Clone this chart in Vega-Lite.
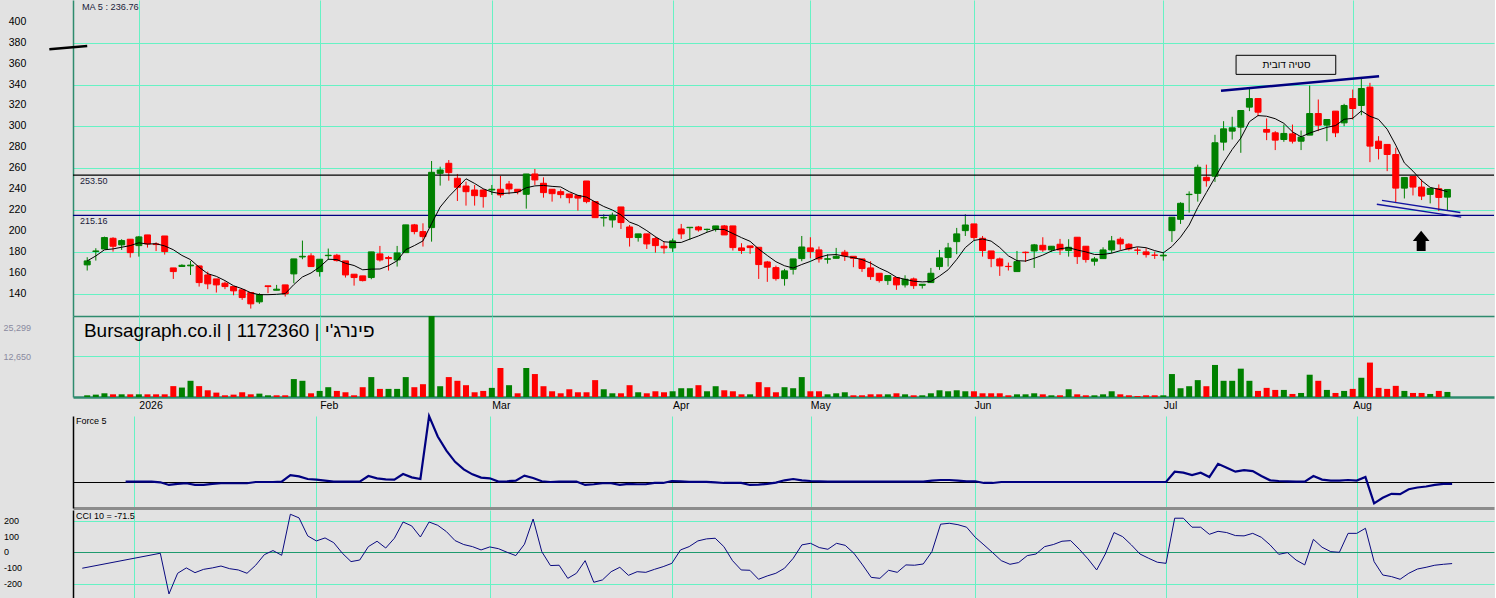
{
  "$schema": "https://vega.github.io/schema/vega-lite/v6.json",
  "background": "#e2e2e2",
  "padding": 0,
  "spacing": 0,
  "config": {
    "view": {"stroke": null},
    "axis": {"ticks": false, "tickSize": 0, "labelFont": "Liberation Sans", "labelColor": "#000000", "gridColor": "#66f2c4", "gridWidth": 1, "domainWidth": 1.5, "labelOverlap": false, "labelFlush": false, "labelBound": false},
    "text": {"font": "Liberation Sans"}
  },
  "datasets": {
    "d": [
      {"i":1,"o":167.8,"h":175.1,"l":162.4,"c":171.6,"v":530,"f":null,"cci":-101},
      {"i":2,"o":180.6,"h":183.7,"l":171.9,"c":181.1,"v":740,"f":null,"cci":null},
      {"i":3,"o":183,"h":194.8,"l":183,"c":193.9,"v":1160,"f":null,"cci":null},
      {"i":4,"o":193.2,"h":194.2,"l":180.5,"c":185.6,"v":840,"f":null,"cci":null},
      {"i":5,"o":186.9,"h":192.3,"l":182.1,"c":191,"v":840,"f":null,"cci":null},
      {"i":6,"o":192.3,"h":192.3,"l":174.8,"c":179.5,"v":840,"f":0.7,"cci":null},
      {"i":7,"o":186.2,"h":195.4,"l":175.7,"c":194.5,"v":840,"f":0.7,"cci":null},
      {"i":8,"o":196.4,"h":196.4,"l":184.3,"c":187.8,"v":840,"f":0.7,"cci":null},
      {"i":9,"o":187.8,"h":189.4,"l":181,"c":187.2,"v":840,"f":0.7,"cci":null},
      {"i":10,"o":195.4,"h":195.4,"l":177.6,"c":180.5,"v":840,"f":0,"cci":-6},
      {"i":11,"o":164.9,"h":164.9,"l":154.4,"c":161.4,"v":3400,"f":-2.7,"cci":-264},
      {"i":12,"o":166.3,"h":168.4,"l":166.2,"c":167.4,"v":2950,"f":-1.7,"cci":-133},
      {"i":13,"o":166.9,"h":171.6,"l":158.2,"c":167.6,"v":5060,"f":-1,"cci":-99},
      {"i":14,"o":166.8,"h":166.8,"l":147.1,"c":150.9,"v":3400,"f":-2.7,"cci":-129},
      {"i":15,"o":158.2,"h":161.4,"l":144.6,"c":149.7,"v":2100,"f":-2.7,"cci":-108},
      {"i":16,"o":154.4,"h":154.4,"l":141.4,"c":148.7,"v":1370,"f":-1.7,"cci":-99},
      {"i":17,"o":150.3,"h":151.9,"l":144.6,"c":147.1,"v":530,"f":-1,"cci":-87},
      {"i":18,"o":147.1,"h":147.1,"l":138.8,"c":143,"v":740,"f":-1,"cci":-104},
      {"i":19,"o":144,"h":144,"l":134.4,"c":136.6,"v":1480,"f":-1,"cci":-112},
      {"i":20,"o":141.4,"h":141.4,"l":126.1,"c":130.6,"v":840,"f":-1,"cci":-133},
      {"i":21,"o":132.5,"h":140.8,"l":130.6,"c":139.5,"v":1050,"f":0.3,"cci":-82},
      {"i":22,"o":147.8,"h":147.8,"l":140.8,"c":147.1,"v":530,"f":0.3,"cci":-15},
      {"i":23,"o":143.6,"h":148.7,"l":143.6,"c":144.6,"v":530,"f":0.3,"cci":11},
      {"i":24,"o":148.7,"h":148.7,"l":137.6,"c":140.1,"v":530,"f":0.7,"cci":-19},
      {"i":25,"o":159.2,"h":173.5,"l":150.3,"c":173.5,"v":5600,"f":7.3,"cci":241},
      {"i":26,"o":175.4,"h":191,"l":173.2,"c":176,"v":5060,"f":6,"cci":218},
      {"i":27,"o":176.4,"h":178.9,"l":166.2,"c":166.2,"v":1160,"f":3.3,"cci":104},
      {"i":28,"o":161.4,"h":173.2,"l":156.6,"c":173.2,"v":1900,"f":2.7,"cci":72},
      {"i":29,"o":176.6,"h":183.4,"l":172.5,"c":177,"v":3060,"f":1.7,"cci":91},
      {"i":30,"o":177,"h":178.3,"l":171,"c":171.9,"v":1900,"f":0.7,"cci":61},
      {"i":31,"o":171.6,"h":171.6,"l":155.7,"c":158.2,"v":1480,"f":0.7,"cci":-6},
      {"i":32,"o":158.9,"h":158.9,"l":148,"c":155.7,"v":530,"f":0.7,"cci":-59},
      {"i":33,"o":157.3,"h":157.3,"l":152,"c":152.8,"v":3060,"f":0.7,"cci":-49},
      {"i":34,"o":155.7,"h":180.2,"l":154.1,"c":180.2,"v":6220,"f":6.3,"cci":36},
      {"i":35,"o":178.3,"h":185.9,"l":171,"c":172.5,"v":2530,"f":4,"cci":70},
      {"i":36,"o":174.8,"h":176.4,"l":162.4,"c":173.8,"v":2530,"f":3,"cci":27},
      {"i":37,"o":172.5,"h":185.9,"l":166.2,"c":179.2,"v":2530,"f":2.7,"cci":89},
      {"i":38,"o":179.5,"h":206,"l":179.5,"c":206,"v":6220,"f":8.3,"cci":192},
      {"i":39,"o":206,"h":206.9,"l":197,"c":199.6,"v":3060,"f":5,"cci":167},
      {"i":40,"o":199.6,"h":207.5,"l":185.3,"c":194.8,"v":4000,"f":3.3,"cci":97},
      {"i":41,"o":203.4,"h":267,"l":190,"c":256.2,"v":25299,"f":67,"cci":192},
      {"i":42,"o":255.2,"h":261.6,"l":243.5,"c":258.4,"v":3370,"f":46.3,"cci":171},
      {"i":43,"o":264.8,"h":267.9,"l":248.2,"c":255.9,"v":6220,"f":32,"cci":131},
      {"i":44,"o":250.5,"h":254.6,"l":228.8,"c":241.9,"v":5060,"f":20.7,"cci":74},
      {"i":45,"o":243.1,"h":247.3,"l":224.4,"c":237.7,"v":3690,"f":13,"cci":49},
      {"i":46,"o":239.3,"h":244.1,"l":224.4,"c":233.9,"v":1480,"f":8,"cci":36},
      {"i":47,"o":239.3,"h":240,"l":222.5,"c":233,"v":1900,"f":4.7,"cci":15},
      {"i":48,"o":239.3,"h":244.1,"l":234.6,"c":240,"v":2850,"f":4,"cci":34},
      {"i":49,"o":240,"h":252.7,"l":232,"c":234.6,"v":9060,"f":0.7,"cci":23},
      {"i":50,"o":245,"h":247.9,"l":235.2,"c":240.3,"v":3690,"f":1,"cci":0},
      {"i":51,"o":240,"h":240,"l":235.2,"c":237.7,"v":1160,"f":1.7,"cci":-21},
      {"i":52,"o":235.2,"h":254.6,"l":221.5,"c":254.6,"v":9060,"f":6.7,"cci":51},
      {"i":53,"o":254.6,"h":259.4,"l":244.1,"c":248.9,"v":7170,"f":4.3,"cci":211},
      {"i":54,"o":245.7,"h":251.4,"l":232,"c":236.8,"v":3370,"f":1,"cci":4},
      {"i":55,"o":240,"h":240,"l":228.2,"c":235.8,"v":1790,"f":0.3,"cci":-84},
      {"i":56,"o":237.7,"h":240,"l":231.4,"c":234.9,"v":1160,"f":0.7,"cci":-82},
      {"i":57,"o":235.5,"h":235.5,"l":226.6,"c":232,"v":2420,"f":0.7,"cci":-165},
      {"i":58,"o":233.9,"h":233.9,"l":219.6,"c":231.6,"v":1480,"f":0.7,"cci":-133},
      {"i":59,"o":247.9,"h":247.9,"l":226.6,"c":228.2,"v":1480,"f":-2.7,"cci":-53},
      {"i":60,"o":228.2,"h":228.2,"l":212.9,"c":212.9,"v":5270,"f":-2,"cci":-190},
      {"i":61,"o":212.6,"h":216.1,"l":204.4,"c":213.1,"v":2420,"f":-1,"cci":-175},
      {"i":62,"o":210.7,"h":217.7,"l":203.4,"c":215.2,"v":1160,"f":-1,"cci":-123},
      {"i":63,"o":223.1,"h":223.1,"l":202.1,"c":208.2,"v":1160,"f":-2.7,"cci":-95},
      {"i":64,"o":204,"h":205.9,"l":185.3,"c":193.9,"v":3690,"f":-1.7,"cci":-146},
      {"i":65,"o":193.9,"h":197.4,"l":190,"c":197.4,"v":1480,"f":-2,"cci":-123},
      {"i":66,"o":197.4,"h":197.4,"l":183,"c":187.8,"v":1160,"f":-2,"cci":-127},
      {"i":67,"o":192.9,"h":194.8,"l":179.5,"c":186.2,"v":1790,"f":-0.7,"cci":-108},
      {"i":68,"o":185.6,"h":189.7,"l":178.6,"c":184,"v":1480,"f":-0.7,"cci":-91},
      {"i":69,"o":184,"h":192.9,"l":180.2,"c":190.7,"v":1790,"f":1.3,"cci":-70},
      {"i":70,"o":202.1,"h":206.9,"l":192.6,"c":197.4,"v":2740,"f":1,"cci":15},
      {"i":71,"o":203.3,"h":203.7,"l":191.6,"c":203.7,"v":2740,"f":0.5,"cci":36},
      {"i":72,"o":204,"h":205,"l":199.6,"c":201.2,"v":3690,"f":0.5,"cci":72},
      {"i":73,"o":201.6,"h":202.4,"l":199.3,"c":201.8,"v":1790,"f":0.5,"cci":85},
      {"i":74,"o":201.8,"h":205,"l":199.6,"c":205,"v":3370,"f":0,"cci":89},
      {"i":75,"o":205,"h":205.9,"l":196.4,"c":196.4,"v":2100,"f":-0.7,"cci":36},
      {"i":76,"o":205,"h":205,"l":181.5,"c":184.3,"v":1790,"f":-0.7,"cci":-53},
      {"i":77,"o":184,"h":188.5,"l":178.3,"c":181.5,"v":840,"f":-0.7,"cci":-112},
      {"i":78,"o":185.9,"h":185.9,"l":178.3,"c":184.3,"v":840,"f":-2.7,"cci":-114},
      {"i":79,"o":184.6,"h":184.6,"l":154.4,"c":168.1,"v":4640,"f":-2.3,"cci":-171},
      {"i":80,"o":170.6,"h":171.6,"l":151.6,"c":165.6,"v":3060,"f":-1.7,"cci":-150},
      {"i":81,"o":165.2,"h":167.1,"l":152.8,"c":154.7,"v":1480,"f":-0.3,"cci":-133},
      {"i":82,"o":154.7,"h":164,"l":148,"c":162.1,"v":3060,"f":2,"cci":-101},
      {"i":83,"o":163.6,"h":173.5,"l":158.6,"c":173.5,"v":2740,"f":3.3,"cci":-38},
      {"i":84,"o":173.8,"h":195.4,"l":171.3,"c":184.9,"v":6220,"f":2,"cci":47},
      {"i":85,"o":184,"h":194.2,"l":174.1,"c":180.5,"v":1790,"f":1.3,"cci":57},
      {"i":86,"o":182.1,"h":185.3,"l":170,"c":173.5,"v":1790,"f":1,"cci":30},
      {"i":87,"o":173.2,"h":177.9,"l":169,"c":173.6,"v":840,"f":0.7,"cci":19},
      {"i":88,"o":174.1,"h":184,"l":174.1,"c":176,"v":1160,"f":0.7,"cci":57},
      {"i":89,"o":179.9,"h":182.1,"l":171.6,"c":176.4,"v":1480,"f":0.7,"cci":44},
      {"i":90,"o":176,"h":176,"l":165.6,"c":174.1,"v":530,"f":0.7,"cci":-6},
      {"i":91,"o":173.5,"h":173.5,"l":161.1,"c":164.3,"v":530,"f":0.7,"cci":-80},
      {"i":92,"o":164.9,"h":171.3,"l":153.5,"c":156.6,"v":840,"f":0.7,"cci":-159},
      {"i":93,"o":159.8,"h":159.8,"l":150.9,"c":152.8,"v":840,"f":0.7,"cci":-165},
      {"i":94,"o":152.8,"h":157.6,"l":148.7,"c":157.6,"v":840,"f":0.7,"cci":-114},
      {"i":95,"o":155.7,"h":155.7,"l":144,"c":148.7,"v":1160,"f":0.7,"cci":-127},
      {"i":96,"o":148.7,"h":157.9,"l":146.2,"c":154.1,"v":840,"f":0.7,"cci":-80},
      {"i":97,"o":154.4,"h":155.7,"l":144.9,"c":148,"v":530,"f":0.7,"cci":-82},
      {"i":98,"o":148.3,"h":149.3,"l":145.2,"c":149.3,"v":530,"f":0.7,"cci":-74},
      {"i":99,"o":150.9,"h":164.9,"l":150.9,"c":159.8,"v":1160,"f":1.7,"cci":4},
      {"i":100,"o":166.2,"h":182.1,"l":163,"c":174.5,"v":2100,"f":2.3,"cci":178},
      {"i":101,"o":174.8,"h":188.8,"l":166.2,"c":184,"v":1790,"f":2.3,"cci":184},
      {"i":102,"o":190,"h":203.1,"l":178,"c":197.4,"v":2100,"f":1.7,"cci":175},
      {"i":103,"o":200.5,"h":216.1,"l":195.4,"c":205.9,"v":1790,"f":1,"cci":159},
      {"i":104,"o":206.9,"h":206.9,"l":191.6,"c":193.9,"v":1790,"f":1,"cci":95},
      {"i":105,"o":193.2,"h":195.4,"l":175.7,"c":181.5,"v":1160,"f":-0.7,"cci":47},
      {"i":106,"o":181.1,"h":181.1,"l":165.6,"c":173.8,"v":1160,"f":-0.7,"cci":-2},
      {"i":107,"o":173.5,"h":174.8,"l":157.3,"c":166.8,"v":1160,"f":0.3,"cci":-53},
      {"i":108,"o":166.4,"h":170,"l":162.4,"c":166.2,"v":530,"f":0.3,"cci":-76},
      {"i":109,"o":161.4,"h":181.1,"l":161.4,"c":170.9,"v":840,"f":0.3,"cci":-65},
      {"i":110,"o":179.9,"h":180.5,"l":170.6,"c":179.5,"v":840,"f":0.3,"cci":-21},
      {"i":111,"o":181.1,"h":187.8,"l":164.9,"c":186.9,"v":1160,"f":0.3,"cci":-11},
      {"i":112,"o":186.5,"h":194.2,"l":180.2,"c":182.1,"v":840,"f":0.3,"cci":36},
      {"i":113,"o":182.1,"h":185.6,"l":180.2,"c":185.6,"v":530,"f":0.3,"cci":49},
      {"i":114,"o":187.5,"h":192.6,"l":177.3,"c":182.1,"v":530,"f":0.3,"cci":70},
      {"i":115,"o":181.5,"h":192.3,"l":175.7,"c":184.6,"v":2420,"f":0.3,"cci":74},
      {"i":116,"o":194.2,"h":194.2,"l":168.7,"c":175.7,"v":840,"f":0.3,"cci":19},
      {"i":117,"o":185.6,"h":185.6,"l":170,"c":172.9,"v":530,"f":0.3,"cci":-42},
      {"i":118,"o":171.3,"h":175.4,"l":167.1,"c":173.5,"v":530,"f":0.3,"cci":-112},
      {"i":119,"o":173.8,"h":184.6,"l":173.8,"c":182.1,"v":840,"f":0.3,"cci":-11},
      {"i":120,"o":182.1,"h":195.4,"l":178.9,"c":190.7,"v":1790,"f":0.3,"cci":125},
      {"i":121,"o":192.3,"h":194.2,"l":182.1,"c":187.8,"v":840,"f":0.3,"cci":99},
      {"i":122,"o":187.5,"h":188.5,"l":181.5,"c":183,"v":530,"f":0.3,"cci":47},
      {"i":123,"o":181.9,"h":184.6,"l":177.6,"c":181.8,"v":300,"f":0.3,"cci":-11},
      {"i":124,"o":180.2,"h":183.7,"l":174.8,"c":177.6,"v":530,"f":0.3,"cci":-38},
      {"i":125,"o":177.1,"h":180.5,"l":173.5,"c":177,"v":530,"f":0.3,"cci":-63},
      {"i":126,"o":176.4,"h":180.2,"l":171.9,"c":177.1,"v":530,"f":0.3,"cci":-70},
      {"i":127,"o":200.5,"h":213.3,"l":189.7,"c":213.3,"v":7170,"f":10.7,"cci":216},
      {"i":128,"o":211.3,"h":227.6,"l":206.9,"c":226.6,"v":2740,"f":9.7,"cci":216},
      {"i":129,"o":234.9,"h":238,"l":217.7,"c":235.2,"v":3370,"f":7.3,"cci":159},
      {"i":130,"o":236.1,"h":263.5,"l":228.2,"c":261,"v":5270,"f":9.7,"cci":159},
      {"i":131,"o":251.4,"h":263.5,"l":242.5,"c":248.2,"v":3370,"f":5.3,"cci":114},
      {"i":132,"o":252.5,"h":292,"l":247,"c":284.4,"v":10010,"f":18.7,"cci":133},
      {"i":133,"o":285,"h":305,"l":277,"c":297.7,"v":5060,"f":14.7,"cci":125},
      {"i":134,"o":295.5,"h":309.2,"l":287.5,"c":298.7,"v":5060,"f":10.7,"cci":106},
      {"i":135,"o":299.3,"h":315.2,"l":274.8,"c":315.2,"v":8850,"f":12.3,"cci":104},
      {"i":136,"o":318.4,"h":335.9,"l":314.6,"c":326.6,"v":5060,"f":11.3,"cci":120},
      {"i":137,"o":326.6,"h":326.6,"l":309.8,"c":313.6,"v":1900,"f":6.3,"cci":95},
      {"i":138,"o":297.1,"h":307.6,"l":286.9,"c":294.5,"v":2850,"f":2,"cci":47},
      {"i":139,"o":293.9,"h":295.5,"l":277.4,"c":286.9,"v":2210,"f":1.3,"cci":-13},
      {"i":140,"o":287.5,"h":301.8,"l":285.3,"c":293.3,"v":2210,"f":1,"cci":-2},
      {"i":141,"o":292.9,"h":301.8,"l":283.7,"c":285.9,"v":950,"f":0.7,"cci":-49},
      {"i":142,"o":285.9,"h":296.1,"l":277.4,"c":289.8,"v":1260,"f":0.7,"cci":-80},
      {"i":143,"o":291.7,"h":339,"l":291.7,"c":312.3,"v":6960,"f":6.3,"cci":82},
      {"i":144,"o":312.3,"h":325.7,"l":295.5,"c":301.2,"v":5060,"f":2.7,"cci":32},
      {"i":145,"o":301.2,"h":306.6,"l":285.9,"c":306.6,"v":2210,"f":1.7,"cci":4},
      {"i":146,"o":314.6,"h":314.6,"l":289.8,"c":293.9,"v":1260,"f":1.7,"cci":0},
      {"i":147,"o":303.4,"h":321.6,"l":300.2,"c":320,"v":1900,"f":2.3,"cci":120},
      {"i":148,"o":326.6,"h":335.2,"l":306.6,"c":317.1,"v":2530,"f":1.7,"cci":120},
      {"i":149,"o":320,"h":346.4,"l":310.7,"c":336.2,"v":6010,"f":5.3,"cci":152},
      {"i":150,"o":337.5,"h":341.6,"l":265.9,"c":281.2,"v":10750,"f":-21.3,"cci":-59},
      {"i":151,"o":285.9,"h":290.7,"l":268.5,"c":278.9,"v":2850,"f":-15.7,"cci":-144},
      {"i":152,"o":282.8,"h":282.8,"l":257.3,"c":273.2,"v":2530,"f":-11.7,"cci":-154},
      {"i":153,"o":273.2,"h":279.6,"l":227.7,"c":241.1,"v":3480,"f":-12,"cci":-171},
      {"i":154,"o":241.1,"h":251.3,"l":231.2,"c":251.3,"v":1900,"f":-7,"cci":-133},
      {"i":155,"o":252.2,"h":252.2,"l":234.1,"c":242.1,"v":1260,"f":-5.3,"cci":-106},
      {"i":156,"o":242.1,"h":249.4,"l":229.7,"c":233.5,"v":1260,"f":-4.3,"cci":-95},
      {"i":157,"o":235.1,"h":240.8,"l":226.5,"c":240.8,"v":950,"f":-2.7,"cci":-82},
      {"i":158,"o":240.5,"h":244.6,"l":219.2,"c":232.2,"v":1900,"f":-1.7,"cci":-76},
      {"i":159,"o":232.5,"h":239.8,"l":220.1,"c":239.8,"v":1580,"f":-1.7,"cci":-71.5}
    ],
    "priceTicks": [
      {"v": 140}, {"v": 160}, {"v": 180}, {"v": 200}, {"v": 220}, {"v": 240}, {"v": 260},
      {"v": 280}, {"v": 300}, {"v": 320}, {"v": 340}, {"v": 360}, {"v": 380}, {"v": 400}
    ],
    "cciTicks": [
      {"v": 200}, {"v": 100}, {"v": 0}, {"v": -100}, {"v": -200}
    ],
    "levels": [
      {"v": 253.5, "t": "253.50"},
      {"v": 215.16, "t": "215.16"}
    ],
    "trend": [
      {"g": "top", "x1": 132.7, "y1": 334.1, "x2": 151.06, "y2": 347.8},
      {"g": "low", "x1": 151.4, "y1": 229.4, "x2": 160.5, "y2": 217.8},
      {"g": "low", "x1": 150.8, "y1": 225.7, "x2": 160.6, "y2": 213.5},
      {"g": "mark", "x1": -3.4, "y1": 373.6, "x2": 1.0, "y2": 376.8}
    ],
    "box": [
      {"x1": 134.45, "x2": 146.03, "y1": 367.9, "y2": 349.7, "xm": 140.3, "ym": 358.6, "t": "סטיה דובית"}
    ],
    "arrow": [
      {"x": 155.95, "y": 190.8}
    ]
  },
  "vconcat": [
    {
      "width": 1421,
      "height": 316,
      "layer": [
        {
          "data": {"name": "d"},
          "mark": {"type": "rule", "strokeWidth": 1},
          "encoding": {
            "x": {"field": "i", "type": "quantitative", "title": null,
              "scale": {"domain": [-0.07, 163.83], "nice": false, "zero": false},
              "axis": {"values": [7, 28, 48, 69, 85, 104, 126, 148], "grid": true, "labels": false, "domain": true, "domainColor": "#2e8b6e", "domainWidth": 1.5, "minExtent": 0, "maxExtent": 0}},
            "y": {"field": "l", "type": "quantitative", "title": null,
              "scale": {"domain": [119, 420.7], "nice": false, "zero": false},
              "axis": {"values": [140, 160, 180, 200, 220, 240, 260, 280, 300, 320, 340, 360, 380, 400], "grid": true, "labels": false, "domainColor": "#2e8b6e", "minExtent": 73, "maxExtent": 73}},
            "y2": {"field": "h"},
            "color": {"condition": {"test": "datum.c >= datum.o", "value": "#008000"}, "value": "#ff0000"}
          }
        },
        {
          "data": {"name": "priceTicks"},
          "mark": {"type": "text", "align": "left", "baseline": "middle", "fontSize": 10.5, "color": "#000000"},
          "encoding": {
            "x": {"datum": -8.11},
            "y": {"field": "v", "type": "quantitative", "title": null},
            "text": {"field": "v", "type": "nominal"}
          }
        },
        {
          "data": {"name": "levels"},
          "mark": {"type": "rule", "strokeWidth": 1.3},
          "encoding": {
            "y": {"field": "v", "type": "quantitative", "title": null},
            "color": {"condition": {"test": "datum.v > 240", "value": "#000000"}, "value": "#000080"}
          }
        },
        {
          "data": {"name": "levels"},
          "mark": {"type": "text", "align": "left", "baseline": "middle", "dy": 6, "fontSize": 9, "color": "#1b1b3a"},
          "encoding": {
            "x": {"datum": 0.16},
            "y": {"field": "v", "type": "quantitative", "title": null},
            "text": {"field": "t"}
          }
        },
        {
          "data": {"name": "d"},
          "mark": {"type": "bar", "size": 6, "strokeWidth": 1},
          "encoding": {
            "x": {"field": "i", "type": "quantitative", "title": null},
            "y": {"field": "o", "type": "quantitative", "title": null},
            "y2": {"field": "c"},
            "color": {"condition": {"test": "datum.c >= datum.o", "value": "#008000"}, "value": "#ff0000"},
            "stroke": {"condition": {"test": "datum.c >= datum.o", "value": "#008000"}, "value": "#ff0000"}
          }
        },
        {
          "data": {"name": "d"},
          "transform": [{"window": [{"op": "mean", "field": "c", "as": "ma"}], "frame": [-4, 0], "sort": [{"field": "i"}]}],
          "mark": {"type": "line", "color": "#000000", "strokeWidth": 1},
          "encoding": {
            "x": {"field": "i", "type": "quantitative", "title": null},
            "y": {"field": "ma", "type": "quantitative", "title": null}
          }
        },
        {
          "data": {"name": "trend"},
          "transform": [{"filter": "datum.g === 'top'"}],
          "mark": {"type": "rule", "color": "#000080", "strokeWidth": 2.5},
          "encoding": {
            "x": {"field": "x1", "type": "quantitative", "title": null},
            "x2": {"field": "x2"},
            "y": {"field": "y1", "type": "quantitative", "title": null},
            "y2": {"field": "y2"}
          }
        },
        {
          "data": {"name": "trend"},
          "transform": [{"filter": "datum.g === 'low'"}],
          "mark": {"type": "rule", "color": "#1414a0", "strokeWidth": 1.3},
          "encoding": {
            "x": {"field": "x1", "type": "quantitative", "title": null},
            "x2": {"field": "x2"},
            "y": {"field": "y1", "type": "quantitative", "title": null},
            "y2": {"field": "y2"}
          }
        },
        {
          "data": {"name": "trend"},
          "transform": [{"filter": "datum.g === 'mark'"}],
          "mark": {"type": "rule", "color": "#000000", "strokeWidth": 2.5},
          "encoding": {
            "x": {"field": "x1", "type": "quantitative", "title": null},
            "x2": {"field": "x2"},
            "y": {"field": "y1", "type": "quantitative", "title": null},
            "y2": {"field": "y2"}
          }
        },
        {
          "data": {"name": "box"},
          "mark": {"type": "rect", "fill": "#e2e2e2", "stroke": "#000000", "strokeWidth": 1},
          "encoding": {
            "x": {"field": "x1", "type": "quantitative", "title": null},
            "x2": {"field": "x2"},
            "y": {"field": "y1", "type": "quantitative", "title": null},
            "y2": {"field": "y2"}
          }
        },
        {
          "data": {"name": "box"},
          "mark": {"type": "text", "align": "center", "baseline": "middle", "fontSize": 10, "color": "#000000"},
          "encoding": {
            "x": {"field": "xm", "type": "quantitative", "title": null},
            "y": {"field": "ym", "type": "quantitative", "title": null},
            "text": {"field": "t"}
          }
        },
        {
          "data": {"name": "arrow"},
          "mark": {"type": "point", "filled": true, "color": "#000000", "opacity": 1, "size": 412, "shape": "M0,-1L0.82,0.02L0.44,0.02L0.44,1L-0.44,1L-0.44,0.02L-0.82,0.02Z"},
          "encoding": {
            "x": {"field": "x", "type": "quantitative", "title": null},
            "y": {"field": "y", "type": "quantitative", "title": null}
          }
        },
        {
          "data": {"values": [{"t": "MA 5 : 236.76"}]},
          "mark": {"type": "text", "align": "left", "baseline": "middle", "fontSize": 9.2, "color": "#1b1b3a"},
          "encoding": {
            "x": {"datum": 0.39},
            "y": {"datum": 414},
            "text": {"field": "t"}
          }
        }
      ]
    },
    {
      "width": 1421,
      "height": 81,
      "layer": [
        {
          "data": {"name": "d"},
          "transform": [{"window": [{"op": "lag", "field": "c", "as": "pc"}], "sort": [{"field": "i"}]}],
          "mark": {"type": "bar", "size": 6},
          "encoding": {
            "x": {"field": "i", "type": "quantitative", "title": null,
              "scale": {"domain": [-0.07, 163.83], "nice": false, "zero": false},
              "axis": {"values": [7, 28, 48, 69, 85, 104, 126, 148], "grid": true, "labels": true, "labelAlign": "left", "labelBaseline": "top", "labelPadding": 3, "labelFontSize": 10.5, "labelFlush": false, "labelOverlap": false, "labelExpr": "datum.value == 7 ? '2026' : datum.value == 28 ? 'Feb' : datum.value == 48 ? 'Mar' : datum.value == 69 ? 'Apr' : datum.value == 85 ? 'May' : datum.value == 104 ? 'Jun' : datum.value == 126 ? 'Jul' : 'Aug'", "domainColor": "#2e8b6e", "domainWidth": 2.5, "minExtent": 14, "maxExtent": 14}},
            "y": {"field": "v", "type": "quantitative", "title": null,
              "scale": {"domain": [0, 25299], "nice": false},
              "axis": {"values": [12650, 25299], "format": ",d", "grid": true, "gridColor": {"condition": {"test": "datum.value > 20000", "value": "transparent"}, "value": "#66f2c4"}, "labelAlign": "left", "labelBaseline": "middle", "labelPadding": 70, "labelFontSize": 9, "labelColor": "#8a8aa0", "labelOverlap": false, "labelOffset": {"condition": {"test": "datum.value > 20000", "value": 11}, "value": 0}, "domainColor": "#2e8b6e", "minExtent": 73, "maxExtent": 73}},
            "color": {"condition": {"test": "datum.pc == null || datum.c >= datum.pc", "value": "#008000"}, "value": "#ff0000"}
          }
        },
        {
          "data": {"values": [{"t": "Bursagraph.co.il | 1172360 | פינרג'י"}]},
          "mark": {"type": "text", "align": "left", "baseline": "middle", "fontSize": 19, "color": "#000000"},
          "encoding": {
            "x": {"datum": 0.62},
            "y": {"datum": 20600},
            "text": {"field": "t"}
          }
        }
      ]
    },
    {
      "width": 1421,
      "height": 92,
      "layer": [
        {
          "data": {"name": "d"},
          "mark": {"type": "line", "color": "#000080", "strokeWidth": 2.2},
          "encoding": {
            "x": {"field": "i", "type": "quantitative", "title": null,
              "scale": {"domain": [-0.07, 163.83], "nice": false, "zero": false},
              "axis": {"values": [7, 28, 48, 69, 85, 104, 126, 148], "grid": true, "labels": false, "domain": true, "domainColor": "#8c8c8c", "domainWidth": 3, "minExtent": 2, "maxExtent": 2}},
            "y": {"field": "f", "type": "quantitative", "title": null,
              "scale": {"domain": [-26, 67], "nice": false, "zero": false},
              "axis": {"values": [0], "grid": true, "gridColor": "#000000", "labels": false, "domainColor": "#000000", "minExtent": 73, "maxExtent": 73}}
          }
        },
        {
          "data": {"values": [{"t": "Force 5"}]},
          "mark": {"type": "text", "align": "left", "baseline": "middle", "fontSize": 9, "color": "#000000"},
          "encoding": {
            "x": {"datum": 0.28},
            "y": {"datum": 62},
            "text": {"field": "t"}
          }
        }
      ]
    },
    {
      "width": 1421,
      "height": 92,
      "layer": [
        {
          "data": {"name": "d"},
          "mark": {"type": "line", "color": "#0a0a80", "strokeWidth": 1, "invalid": "filter"},
          "encoding": {
            "x": {"field": "i", "type": "quantitative", "title": null,
              "scale": {"domain": [-0.07, 163.83], "nice": false, "zero": false},
              "axis": {"values": [7, 28, 48, 69, 85, 104, 126, 148], "grid": true, "labels": false, "domain": true, "domainColor": "#000000", "domainWidth": 1.5, "minExtent": 1, "maxExtent": 1}},
            "y": {"field": "cci", "type": "quantitative", "title": null,
              "scale": {"domain": [-315, 268], "nice": false, "zero": false},
              "axis": {"values": [-200, -100, 0, 100, 200], "grid": true, "gridColor": {"condition": {"test": "datum.value === 0", "value": "#1e9a6e"}, "value": "#66f2c4"}, "labels": false, "domainColor": "#000000", "minExtent": 73, "maxExtent": 73}}
          }
        },
        {
          "data": {"name": "cciTicks"},
          "mark": {"type": "text", "align": "left", "baseline": "middle", "fontSize": 9, "color": "#000000"},
          "encoding": {
            "x": {"datum": -8.03},
            "y": {"field": "v", "type": "quantitative", "title": null},
            "text": {"field": "v", "type": "nominal"}
          }
        },
        {
          "data": {"values": [{"t": "CCI 10 = -71.5"}]},
          "mark": {"type": "text", "align": "left", "baseline": "middle", "fontSize": 9, "color": "#000000"},
          "encoding": {
            "x": {"datum": 0.28},
            "y": {"datum": 230},
            "text": {"field": "t"}
          }
        }
      ]
    }
  ]
}
